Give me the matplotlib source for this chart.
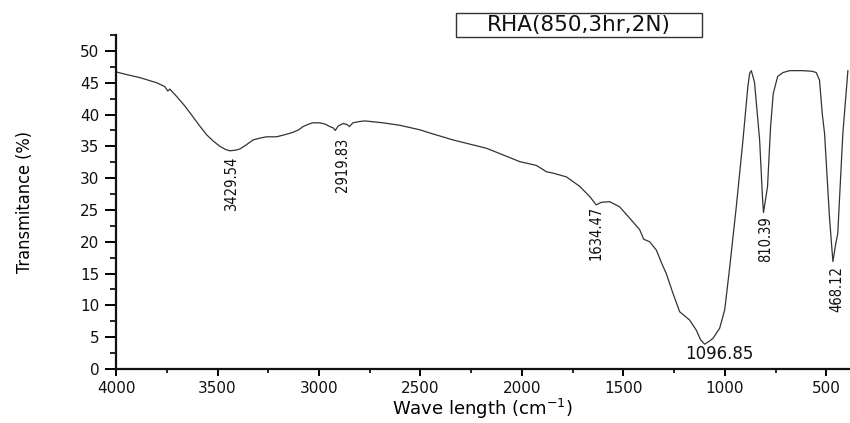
import matplotlib
matplotlib.use('Agg')
import matplotlib.pyplot as plt
import matplotlib.patches as mpatches
from matplotlib.ticker import MultipleLocator

# ── FTIR spectrum ────────────────────────────────────────────────────────────
wavenumber = [
    4000, 3950, 3882, 3800, 3760, 3745, 3735, 3700, 3660, 3627, 3590, 3553,
    3520, 3488, 3460, 3439, 3410, 3389, 3360, 3325, 3290, 3258, 3209, 3160,
    3129, 3100, 3079, 3050, 3030, 2996, 2970, 2946, 2930, 2920, 2905, 2880,
    2860, 2850, 2833, 2800, 2774, 2685, 2600, 2503, 2454, 2339, 2175, 2011,
    1929, 1879, 1848, 1781, 1715, 1666, 1634, 1609, 1568, 1519, 1469, 1420,
    1400, 1371, 1338, 1310, 1289, 1256, 1223, 1174, 1141, 1120, 1100, 1080,
    1059, 1026, 1001, 976, 944, 911, 887, 878, 870, 862, 854, 829, 815, 810,
    803, 790, 775, 762, 740, 714, 681, 616, 570, 550, 534, 520, 509, 485,
    468, 455, 444, 419, 394,
]
transmittance = [
    46.7, 46.3, 45.8, 45.0, 44.4, 43.7, 44.0, 42.8, 41.3, 39.9, 38.3, 36.8,
    35.8, 35.0, 34.5, 34.3, 34.4, 34.6, 35.2, 36.0, 36.3, 36.5, 36.5, 36.9,
    37.2, 37.6, 38.1, 38.5, 38.7, 38.7, 38.5, 38.1, 37.9, 37.5, 38.2, 38.6,
    38.4, 38.1, 38.7, 38.9, 39.0, 38.7, 38.3, 37.6, 37.1, 36.0, 34.7, 32.6,
    32.0, 31.0, 30.8, 30.2, 28.7, 27.1, 25.8, 26.2, 26.3, 25.5, 23.7, 21.9,
    20.4, 20.0, 18.7, 16.5, 15.0, 11.9, 9.0, 7.7, 6.1, 4.6, 3.9, 4.3,
    4.8, 6.4, 9.3, 16.1, 25.5, 36.0, 44.4, 46.5, 46.9, 46.0, 45.0, 36.0, 27.0, 24.6,
    26.0, 28.7, 38.1, 43.3, 46.0, 46.6, 46.9, 46.9, 46.8, 46.6, 45.4, 40.0, 37.0, 23.9,
    16.9, 19.5, 21.3, 37.0, 46.9,
]

# peak labels: text, x position, y position (top of rotated label)
peak_labels = ['3429.54', '2919.83', '1634.47', '810.39', '468.12']
peak_x      = [3429, 2885, 1634, 800, 450]
peak_y      = [33.4, 36.3, 25.6, 24.0, 16.2]

main_peak_label = '1096.85'
main_peak_xy    = (1026, 2.3)

title = 'RHA(850,3hr,2N)'

FONT = 'DejaVu Sans'

fig = plt.figure(figsize=(8.5, 4.23), dpi=100)
ax = fig.add_axes([0.1365, 0.1277, 0.862, 0.7895])

ax.plot(wavenumber, transmittance, color='#333333', lw=0.9)

ax.set_xlim(4000, 390)
ax.set_ylim(0, 52.5)
ax.xaxis.set_major_locator(MultipleLocator(500))
ax.xaxis.set_minor_locator(MultipleLocator(250))
ax.yaxis.set_major_locator(MultipleLocator(5))
ax.yaxis.set_minor_locator(MultipleLocator(2.5))

for side in ('top', 'right'):
    ax.spines[side].set_visible(False)
for side in ('left', 'bottom'):
    ax.spines[side].set_linewidth(1.6)
    ax.spines[side].set_color('#111111')

ax.tick_params(axis='y', which='major', direction='out', length=8, width=1.4, pad=4)
ax.tick_params(axis='y', which='minor', direction='out', length=4, width=1.2)
ax.tick_params(axis='x', which='major', direction='out', length=5, width=1.4, pad=4)
ax.tick_params(axis='x', which='minor', direction='out', length=3, width=1.2)
for lab in ax.get_xticklabels() + ax.get_yticklabels():
    lab.set_fontfamily(FONT)
    lab.set_fontsize(11)
    lab.set_color('#111111')

ax.set_xlabel('Wave length (cm$^{-1}$)', fontfamily=FONT, fontsize=13, labelpad=0)
ax.set_ylabel('Transmitance (%)', fontfamily=FONT, fontstretch='condensed',
              fontsize=13, labelpad=33)

for txt, x, y in zip(peak_labels, peak_x, peak_y):
    ax.text(x, y, txt, rotation=90, ha='center', va='top', family=FONT,
            fontstretch='condensed', fontsize=10.5, color='#111111')

ax.text(main_peak_xy[0], main_peak_xy[1], main_peak_label, ha='center',
        va='center', family=FONT, fontsize=12, color='#111111')

# title box
box = mpatches.Rectangle((0.5365, 0.9125), 0.2894, 0.0567, transform=fig.transFigure,
                         fill=False, edgecolor='#333333', lw=1.0)
fig.patches.append(box)
fig.text(0.681, 0.941, title, ha='center', va='center', family=FONT,
         fontsize=15.5, color='#111111')

fig.savefig('out.png', dpi=100)
